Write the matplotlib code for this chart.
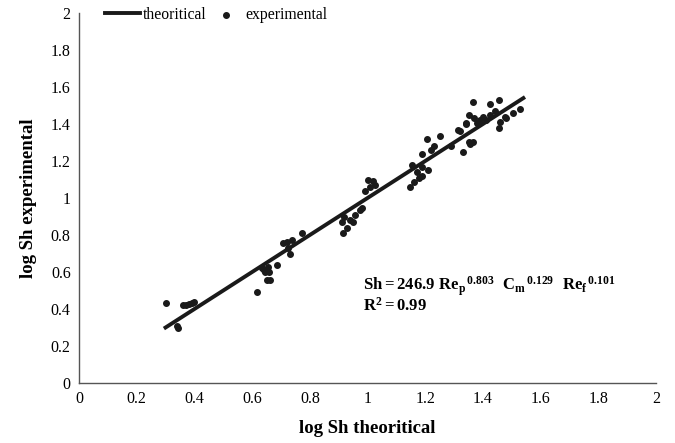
import matplotlib
matplotlib.use("Agg")
import matplotlib.pyplot as plt
import numpy as np

plt.rcParams['font.family'] = ['Liberation Serif', 'DejaVu Serif']
plt.rcParams['mathtext.fontset'] = 'custom'
plt.rcParams['mathtext.rm'] = 'Liberation Serif:bold'
plt.rcParams['mathtext.bf'] = 'Liberation Serif:bold'
plt.rcParams['mathtext.it'] = 'Liberation Serif:bold'

# theoretical line (log Sh theoretical = log Sh experimental)
line_x = [0.30, 1.54]
line_y = [0.30, 1.54]

# experimental points
exp_x = [0.30, 0.34, 0.343, 0.36, 0.37, 0.38, 0.39, 0.40,
         0.616, 0.65, 0.662, 0.645, 0.634, 0.655, 0.686, 0.64, 0.66,
         0.707, 0.72, 0.738, 0.73, 0.773, 0.725,
         0.915, 0.93, 0.91, 0.94, 0.95, 0.957, 0.974, 0.98, 0.92,
         0.99, 1.00, 1.01, 1.02, 1.026,
         1.147, 1.16, 1.155, 1.17, 1.19, 1.19, 1.19, 1.206, 1.22, 1.23,
         1.25, 1.29, 1.18, 1.21,
         1.32, 1.34, 1.33, 1.35, 1.315, 1.34, 1.355, 1.366, 1.35, 1.366,
         1.38, 1.39, 1.40, 1.41, 1.425, 1.425, 1.456, 1.456, 1.46, 1.475,
         1.48, 1.505, 1.53, 1.37, 1.44]
exp_y = [0.43, 0.31, 0.30, 0.42, 0.42, 0.425, 0.43, 0.44,
         0.49, 0.557, 0.557, 0.60, 0.62, 0.627, 0.638, 0.61, 0.60,
         0.757, 0.76, 0.773, 0.70, 0.81, 0.73,
         0.81, 0.84, 0.87, 0.88, 0.87, 0.908, 0.935, 0.946, 0.897,
         1.04, 1.097, 1.06, 1.09, 1.07,
         1.06, 1.086, 1.18, 1.14, 1.12, 1.17, 1.24, 1.32, 1.26, 1.28,
         1.335, 1.28, 1.11, 1.15,
         1.36, 1.405, 1.25, 1.30, 1.37, 1.40, 1.29, 1.30, 1.45, 1.52,
         1.405, 1.42, 1.44, 1.42, 1.45, 1.51, 1.53, 1.38, 1.41, 1.44,
         1.43, 1.46, 1.48, 1.43, 1.47]

ticks = [0, 0.2, 0.4, 0.6, 0.8, 1, 1.2, 1.4, 1.6, 1.8, 2]
tick_labels = ['0', '0.2', '0.4', '0.6', '0.8', '1', '1.2', '1.4', '1.6', '1.8', '2']

fig = plt.figure(figsize=(6.75, 4.43), dpi=100)
ax = fig.add_axes([0.117, 0.1354, 0.855, 0.8353])

ax.plot(line_x, line_y, color='#1a1a1a', linewidth=2.8, label='theoritical', zorder=3)
ax.scatter(exp_x, exp_y, s=16, color='#1a1a1a', label='experimental', zorder=4)

ax.set_xlim(0, 2)
ax.set_ylim(0, 2)
ax.set_xticks(ticks)
ax.set_xticklabels(tick_labels)
ax.set_yticks(ticks)
ax.set_yticklabels(tick_labels)
ax.tick_params(length=0, labelsize=11.5, pad=6)

for s in ['top', 'right']:
    ax.spines[s].set_visible(False)
for s in ['left', 'bottom']:
    ax.spines[s].set_color('#555555')
    ax.spines[s].set_linewidth(1.0)

ax.set_xlabel('log Sh theoritical', fontsize=13.5, fontweight='bold', labelpad=9)
ax.set_ylabel('log Sh experimental', fontsize=13.5, fontweight='bold', labelpad=10)

# correlation text, right end near x = 1.86
eq = ax.text(1.86, 0.50,
             r'$\mathbf{Sh = 246.9\ Re_p{}^{\,0.803}\ \ C_m{}^{\,0.129}\ \ Re_f{}^{\,0.101}}$',
             fontsize=12, ha='right')
fig.canvas.draw()
bb = eq.get_window_extent().transformed(ax.transData.inverted())
ax.text(bb.x0, 0.39, r'$\mathbf{R^2 = 0.99}$', fontsize=12)

leg = ax.legend(loc='center', bbox_to_anchor=(0.238, 0.995), ncol=2, frameon=False,
                fontsize=11.3, handlelength=2.2, columnspacing=0.15, handletextpad=0.15,
                borderaxespad=0, scatterpoints=1)

fig.savefig('out.png', dpi=100)
